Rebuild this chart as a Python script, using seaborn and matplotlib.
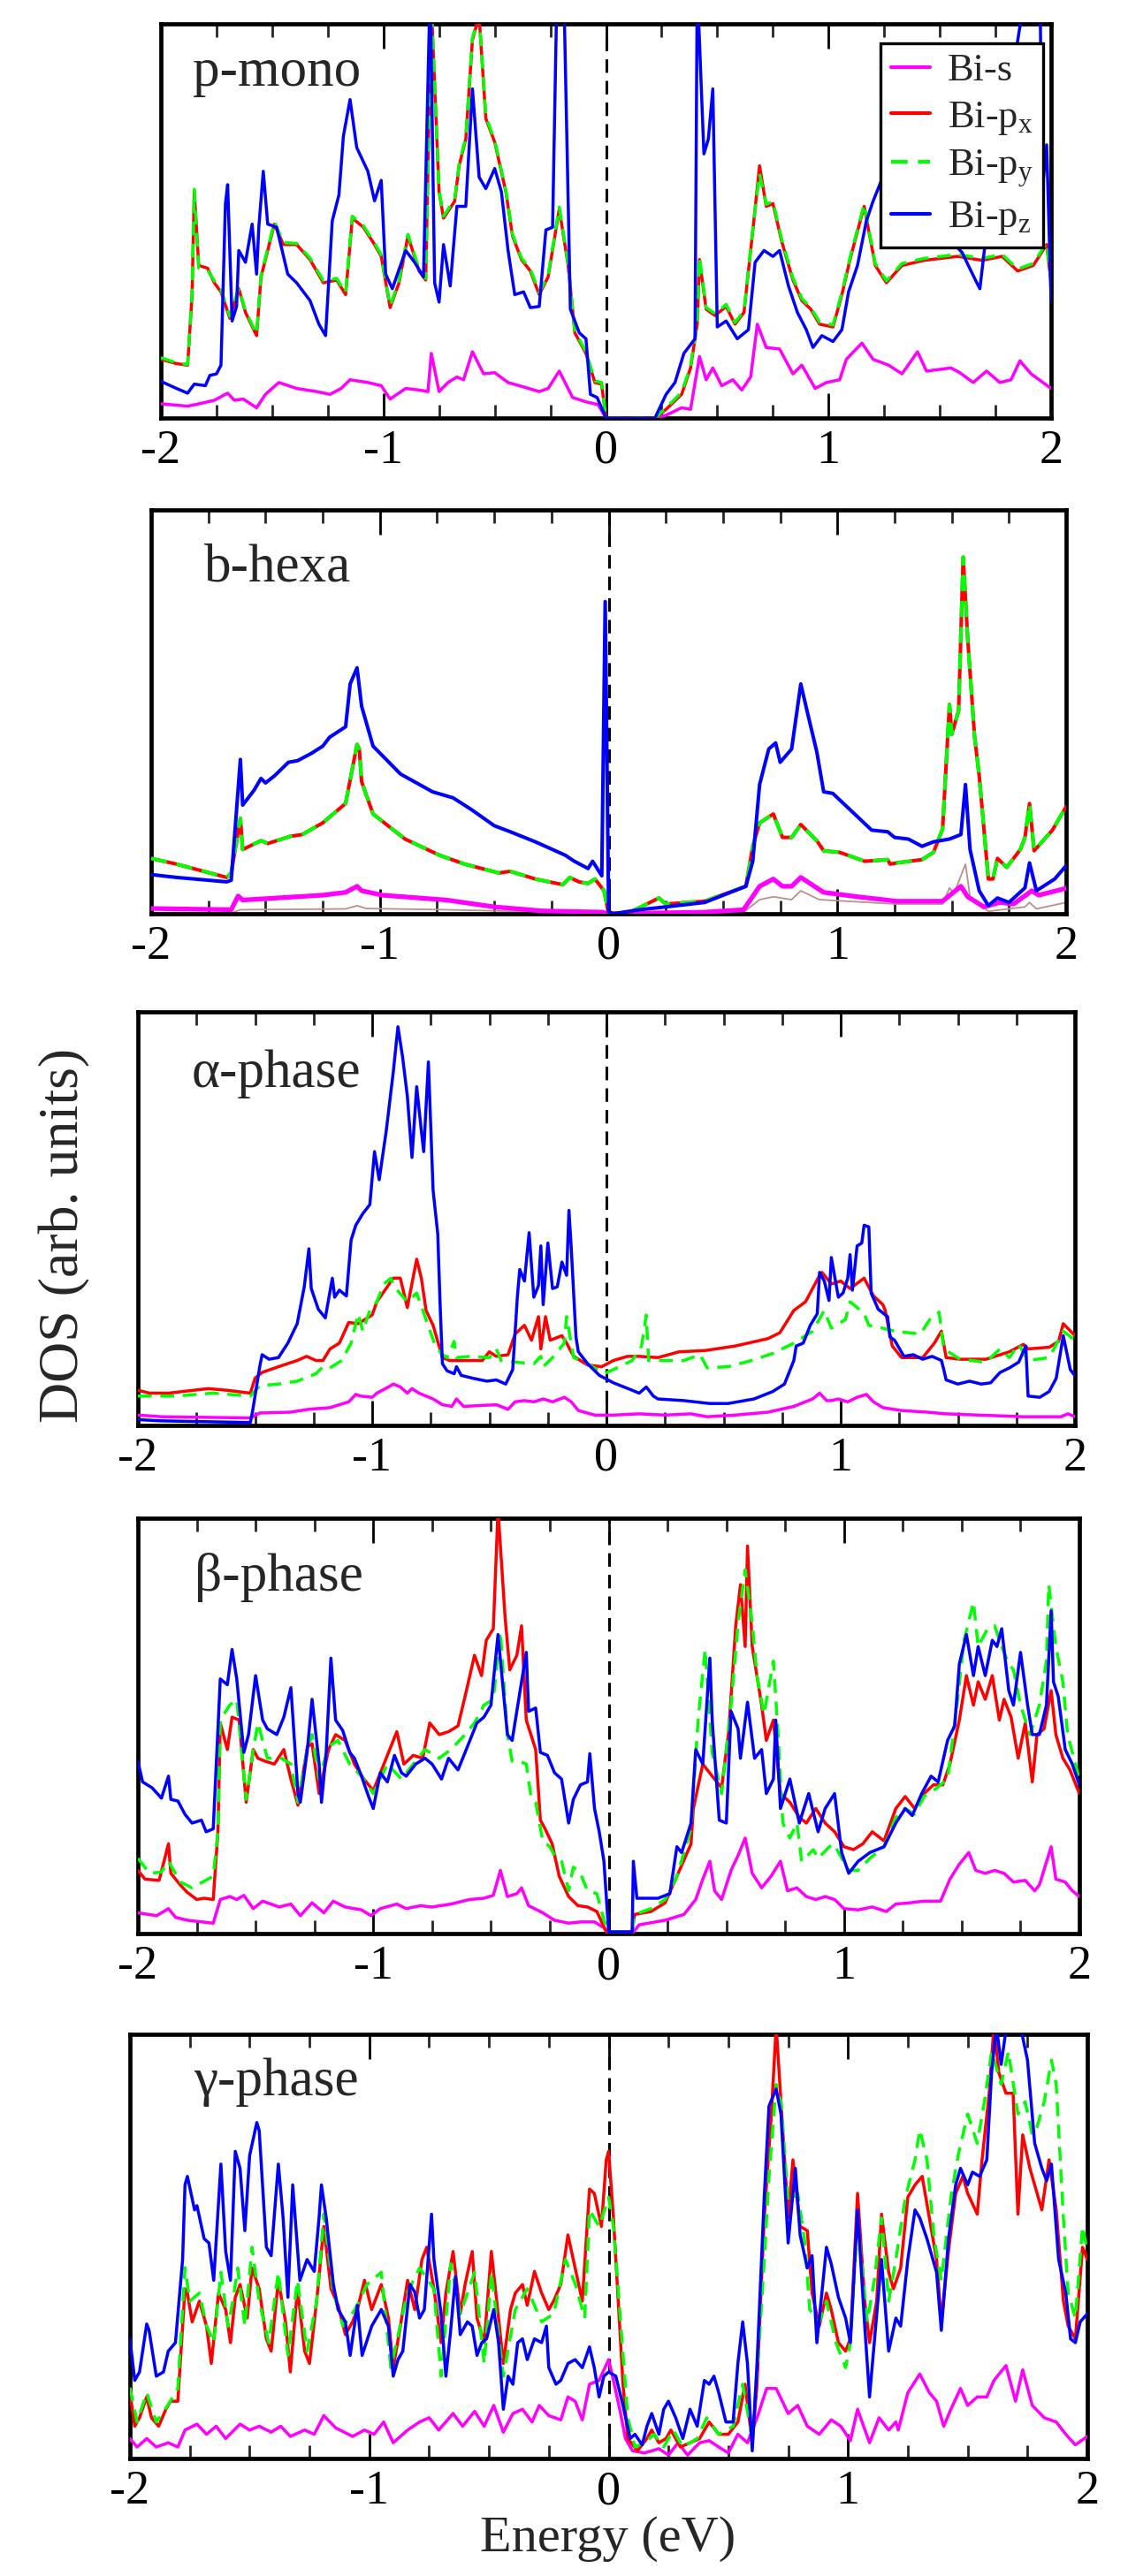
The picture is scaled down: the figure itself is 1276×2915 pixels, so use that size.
import matplotlib
matplotlib.use("Agg")
import matplotlib.pyplot as plt
import seaborn as sns
from matplotlib.ticker import MultipleLocator

# ---------------- data (energy eV, DOS arb. units 0-100 of panel height) ----------------
panel_labels = ["p-mono", "b-hexa", "\u03b1-phase", "\u03b2-phase", "\u03b3-phase"]
legend_labels = ["Bi-s", r"Bi-p$_{\mathrm{x}}$", r"Bi-p$_{\mathrm{y}}$", r"Bi-p$_{\mathrm{z}}$"]
xtick_vals = [-2, -1, 0, 1, 2]
xtick_labels = ["-2", "-1", "0", "1", "2"]

pmono_s = [(-2.0,3.6),(-1.88,3.0),(-1.82,3.7),(-1.76,4.5),(-1.70,6.3),(-1.67,4.5),(-1.63,4.8),(-1.57,2.6),(-1.53,6.0),(-1.47,9.0),(-1.39,7.5),(-1.30,6.7),(-1.24,6.0),(-1.19,7.5),(-1.15,9.7),(-1.07,9.0),(-1.01,8.2),(-0.97,4.8),(-0.90,7.5),(-0.84,7.1),(-0.80,6.7),(-0.785,16.4),(-0.75,6.7),(-0.71,9.0),(-0.67,10.4),(-0.64,9.7),(-0.60,16.8),(-0.55,11.2),(-0.50,11.5),(-0.44,9.0),(-0.39,8.2),(-0.30,6.7),(-0.26,7.5),(-0.21,11.9),(-0.15,5.2),(-0.09,4.1),(-0.036,3.4),(0.0,0.0),(0.22,0.0),(0.27,0.7),(0.34,2.6),(0.38,2.2),(0.42,15.6),(0.45,9.7),(0.48,12.7),(0.52,8.2),(0.57,9.7),(0.61,7.1),(0.65,10.4),(0.68,23.8),(0.72,17.9),(0.78,17.5),(0.84,11.2),(0.88,13.4),(0.94,7.5),(0.99,9.0),(1.05,9.7),(1.08,14.9),(1.15,19.0),(1.20,14.9),(1.27,13.4),(1.33,11.2),(1.40,16.8),(1.44,11.9),(1.55,12.7),(1.59,11.5),(1.65,9.0),(1.71,11.9),(1.77,9.0),(1.82,9.7),(1.86,14.5),(1.91,11.2),(2.0,7.5)]
pmono_px = [(-2.0,14.9),(-1.93,13.8),(-1.88,13.4),(-1.86,31.0),(-1.85,57.4),(-1.83,38.7),(-1.79,38.0),(-1.76,34.3),(-1.73,32.0),(-1.69,25.3),(-1.65,32.8),(-1.62,26.8),(-1.57,20.9),(-1.55,35.8),(-1.49,49.2),(-1.45,44.0),(-1.39,44.0),(-1.33,40.2),(-1.27,34.3),(-1.21,35.0),(-1.17,31.3),(-1.14,50.7),(-1.09,48.4),(-1.04,44.0),(-1.01,41.0),(-0.97,28.0),(-0.93,34.3),(-0.89,46.2),(-0.84,37.3),(-0.81,35.0),(-0.785,105),(-0.75,57.4),(-0.73,50.7),(-0.68,55.0),(-0.66,64.0),(-0.63,70.8),(-0.60,96.0),(-0.57,102),(-0.54,76.0),(-0.50,70.0),(-0.45,57.4),(-0.42,46.2),(-0.38,40.2),(-0.34,37.3),(-0.30,31.3),(-0.26,35.8),(-0.21,53.0),(-0.17,38.7),(-0.14,21.6),(-0.09,16.4),(-0.05,9.0),(-0.02,8.6),(0.0,0.0),(0.22,0.0),(0.27,2.2),(0.34,6.0),(0.38,12.7),(0.41,23.8),(0.42,40.2),(0.45,27.6),(0.49,26.0),(0.54,28.3),(0.58,23.8),(0.62,26.8),(0.66,47.7),(0.69,64.0),(0.72,53.7),(0.75,54.4),(0.79,44.7),(0.84,35.0),(0.88,29.8),(0.92,27.6),(0.96,23.8),(1.02,23.1),(1.06,31.3),(1.10,41.0),(1.16,53.7),(1.21,38.7),(1.26,34.3),(1.33,38.7),(1.43,40.0),(1.58,41.0),(1.69,40.0),(1.78,41.0),(1.85,37.3),(1.92,38.7),(1.98,44.0),(2.0,34.3)]
pmono_py = [(-2.0,15.3),(-1.93,14.0),(-1.88,13.6),(-1.86,31.5),(-1.85,58.0),(-1.83,38.0),(-1.79,37.5),(-1.76,34.8),(-1.73,32.5),(-1.69,25.8),(-1.65,33.0),(-1.62,27.2),(-1.57,21.3),(-1.55,36.2),(-1.49,49.8),(-1.45,44.5),(-1.39,44.3),(-1.33,40.6),(-1.27,34.8),(-1.21,35.4),(-1.17,31.8),(-1.14,51.2),(-1.09,48.8),(-1.04,44.4),(-1.01,41.4),(-0.97,28.4),(-0.93,34.8),(-0.89,46.6),(-0.84,37.8),(-0.81,35.4),(-0.785,105),(-0.75,57.8),(-0.73,51.2),(-0.68,55.5),(-0.66,64.5),(-0.63,71.2),(-0.60,96.5),(-0.57,102),(-0.54,76.5),(-0.50,70.4),(-0.45,57.8),(-0.42,46.6),(-0.38,40.6),(-0.34,37.8),(-0.30,31.8),(-0.26,36.2),(-0.21,53.5),(-0.17,39.2),(-0.14,22.0),(-0.09,16.8),(-0.05,9.4),(-0.02,9.0),(0.0,0.0),(0.22,0.0),(0.27,2.6),(0.34,6.5),(0.38,13.2),(0.41,24.3),(0.42,40.8),(0.45,28.0),(0.49,26.5),(0.54,28.8),(0.58,24.2),(0.62,27.2),(0.66,48.2),(0.69,62.0),(0.72,54.2),(0.75,55.0),(0.79,45.2),(0.84,35.5),(0.88,30.3),(0.92,28.0),(0.96,24.3),(1.02,23.6),(1.06,31.8),(1.10,41.5),(1.16,54.2),(1.21,39.2),(1.26,34.8),(1.33,39.2),(1.43,40.5),(1.58,41.5),(1.69,40.5),(1.78,41.5),(1.85,37.8),(1.92,39.2),(1.98,44.5),(2.0,34.8)]
pmono_pz = [(-2.0,9.3),(-1.93,7.5),(-1.88,6.3),(-1.85,8.6),(-1.80,8.2),(-1.78,10.8),(-1.75,11.2),(-1.73,13.4),(-1.71,54.4),(-1.70,59.2),(-1.68,24.6),(-1.66,28.3),(-1.65,42.5),(-1.62,39.5),(-1.59,49.2),(-1.57,36.5),(-1.56,48.4),(-1.54,62.6),(-1.52,49.2),(-1.48,48.4),(-1.43,36.5),(-1.39,34.3),(-1.33,29.8),(-1.29,23.8),(-1.26,20.9),(-1.23,50.0),(-1.20,56.6),(-1.18,71.5),(-1.15,80.8),(-1.12,68.6),(-1.07,62.6),(-1.04,55.1),(-1.01,60.3),(-0.99,36.5),(-0.96,32.8),(-0.90,42.5),(-0.86,39.5),(-0.82,35.8),(-0.79,110),(-0.77,34.3),(-0.75,29.4),(-0.73,44.0),(-0.70,33.5),(-0.67,53.7),(-0.63,53.7),(-0.60,83.5),(-0.57,61.1),(-0.54,58.2),(-0.50,63.3),(-0.47,57.4),(-0.44,42.5),(-0.41,31.3),(-0.37,32.0),(-0.34,28.0),(-0.30,28.3),(-0.27,47.7),(-0.24,48.4),(-0.22,110),(-0.19,110),(-0.16,27.6),(-0.12,21.6),(-0.09,20.1),(-0.07,6.0),(-0.04,5.2),(0.0,0.0),(0.22,0.0),(0.27,6.0),(0.31,9.0),(0.35,16.4),(0.40,20.1),(0.41,110),(0.44,67.0),(0.46,70.8),(0.48,83.5),(0.50,23.1),(0.54,24.6),(0.59,20.1),(0.64,22.4),(0.67,39.5),(0.71,42.5),(0.75,41.0),(0.78,42.5),(0.82,33.5),(0.86,26.8),(0.90,22.4),(0.93,17.9),(0.97,20.9),(1.02,19.4),(1.06,22.4),(1.09,32.0),(1.13,38.7),(1.17,50.0),(1.20,55.0),(1.25,62.0),(1.30,50.0),(1.40,45.0),(1.50,48.0),(1.60,42.0),(1.66,35.0),(1.68,32.8),(1.70,42.5),(1.89,110),(1.95,110),(1.96,57.4),(1.98,69.3),(2.0,29.8)]

bhexa_tot = [(-2.0,0.2),(-1.65,0.2),(-1.61,1.0),(-1.15,1.2),(-1.10,2.0),(-1.06,1.3),(-0.71,1.0),(-0.03,0.1),(0.0,0.0),(0.59,0.4),(0.66,3.5),(0.72,4.2),(0.80,3.5),(0.84,5.7),(0.92,3.5),(1.26,2.4),(1.46,2.4),(1.49,6.4),(1.51,5.0),(1.56,12.3),(1.58,4.2),(1.66,0.6),(1.82,1.7),(1.84,2.8),(1.87,1.2),(2.0,2.8)]
bhexa_s = [(-2.0,1.3),(-1.65,1.0),(-1.62,4.4),(-1.60,3.4),(-1.51,3.7),(-1.25,4.6),(-1.15,5.3),(-1.10,6.8),(-1.08,5.7),(-0.99,4.6),(-0.71,3.4),(-0.50,1.7),(-0.29,0.7),(-0.03,0.4),(0.0,0.0),(0.42,0.4),(0.59,1.0),(0.66,6.8),(0.72,8.6),(0.76,6.8),(0.80,6.8),(0.84,9.0),(0.94,5.3),(1.09,4.2),(1.26,3.1),(1.46,3.1),(1.54,6.8),(1.57,4.2),(1.64,1.7),(1.71,2.8),(1.77,2.4),(1.85,5.7),(1.88,4.6),(2.0,6.3)]
bhexa_px = [(-2.0,13.7),(-1.89,12.3),(-1.67,9.0),(-1.65,10.1),(-1.61,23.6),(-1.60,15.9),(-1.52,18.1),(-1.49,17.4),(-1.39,19.2),(-1.34,19.6),(-1.25,22.5),(-1.15,27.3),(-1.10,41.9),(-1.09,40.8),(-1.08,32.7),(-1.03,24.7),(-0.89,18.5),(-0.74,14.5),(-0.63,12.3),(-0.48,10.1),(-0.43,10.5),(-0.32,8.6),(-0.20,7.2),(-0.17,9.0),(-0.13,7.9),(-0.09,7.5),(-0.06,8.6),(-0.02,5.7),(0.0,0.0),(0.08,0.0),(0.22,3.9),(0.25,2.4),(0.42,3.1),(0.60,6.8),(0.63,16.7),(0.66,22.5),(0.72,24.7),(0.76,18.9),(0.80,18.9),(0.84,22.1),(0.91,18.1),(0.94,15.6),(1.01,15.2),(1.12,13.0),(1.22,13.4),(1.23,12.3),(1.26,12.6),(1.37,13.4),(1.42,15.2),(1.46,21.0),(1.49,51.8),(1.50,44.4),(1.53,50.3),(1.55,88.3),(1.57,67.8),(1.60,43.7),(1.62,34.2),(1.66,8.6),(1.68,8.6),(1.70,13.7),(1.74,11.5),(1.80,15.9),(1.82,18.9),(1.84,27.3),(1.86,15.6),(1.94,20.7),(2.0,26.5)]
bhexa_py = list(bhexa_px)
bhexa_pz = [(-2.0,9.7),(-1.89,9.0),(-1.67,7.9),(-1.65,8.3),(-1.61,38.2),(-1.60,26.9),(-1.55,30.6),(-1.52,33.5),(-1.50,32.4),(-1.46,34.2),(-1.40,37.5),(-1.36,37.9),(-1.30,39.7),(-1.25,41.5),(-1.22,43.7),(-1.15,46.3),(-1.13,56.9),(-1.10,60.9),(-1.08,51.4),(-1.03,41.5),(-0.91,34.6),(-0.77,30.2),(-0.68,28.7),(-0.60,25.8),(-0.50,21.8),(-0.43,20.3),(-0.32,17.8),(-0.19,14.5),(-0.15,13.0),(-0.09,11.2),(-0.07,13.0),(-0.03,9.4),(-0.015,77.3),(0.0,0.6),(0.02,0.0),(0.135,1.0),(0.25,1.7),(0.42,2.8),(0.60,6.8),(0.63,13.0),(0.66,32.0),(0.70,40.8),(0.73,42.3),(0.75,37.5),(0.80,40.8),(0.84,56.9),(0.87,49.6),(0.91,40.1),(0.94,30.2),(0.98,29.8),(1.15,20.7),(1.22,20.3),(1.25,18.9),(1.31,18.5),(1.37,16.7),(1.42,17.8),(1.49,18.5),(1.54,19.6),(1.56,32.0),(1.58,15.9),(1.62,5.7),(1.66,2.0),(1.70,3.9),(1.75,2.8),(1.82,6.4),(1.84,12.6),(1.87,5.7),(1.95,8.6),(2.0,11.9)]

alpha_s = [(-2.0,2.5),(-1.90,2.1),(-1.52,1.8),(-1.48,3.0),(-1.35,3.2),(-1.27,3.9),(-1.18,4.3),(-1.10,5.7),(-1.07,7.5),(-1.05,7.1),(-1.00,6.8),(-0.98,7.8),(-0.93,9.3),(-0.91,10.0),(-0.88,9.3),(-0.85,7.8),(-0.83,8.9),(-0.80,7.8),(-0.77,7.1),(-0.74,6.4),(-0.70,5.0),(-0.66,4.6),(-0.64,6.4),(-0.61,4.6),(-0.47,5.0),(-0.42,3.9),(-0.39,5.7),(-0.35,6.0),(-0.31,5.7),(-0.27,6.4),(-0.23,5.7),(-0.18,6.8),(-0.15,5.7),(-0.12,3.6),(-0.05,2.5),(0.03,2.5),(0.14,2.8),(0.25,2.5),(0.36,2.8),(0.43,2.1),(0.55,2.5),(0.69,3.2),(0.80,4.6),(0.88,6.4),(0.91,7.8),(0.94,6.0),(0.96,6.0),(0.99,6.4),(1.03,5.7),(1.07,6.8),(1.11,7.5),(1.14,5.7),(1.18,4.3),(1.26,3.6),(1.37,3.2),(1.45,2.8),(1.59,2.5),(1.78,2.1),(1.94,2.1),(1.97,2.8),(2.0,2.1)]
alpha_px = [(-2.0,8.5),(-1.95,7.8),(-1.87,7.8),(-1.70,8.9),(-1.62,8.5),(-1.52,7.8),(-1.50,11.4),(-1.47,12.8),(-1.40,14.2),(-1.32,15.7),(-1.28,16.7),(-1.24,15.7),(-1.21,15.7),(-1.18,18.5),(-1.14,19.9),(-1.10,24.9),(-1.06,24.6),(-1.00,26.7),(-0.98,29.9),(-0.91,35.6),(-0.88,35.6),(-0.85,28.5),(-0.81,40.2),(-0.79,35.6),(-0.77,27.8),(-0.74,24.2),(-0.70,16.4),(-0.67,15.7),(-0.61,15.7),(-0.53,15.7),(-0.50,17.8),(-0.47,16.7),(-0.42,17.1),(-0.39,22.1),(-0.35,24.2),(-0.32,20.6),(-0.29,26.3),(-0.28,18.5),(-0.26,26.3),(-0.24,20.6),(-0.19,21.7),(-0.17,19.9),(-0.14,16.7),(-0.08,14.6),(-0.02,14.2),(0.03,15.7),(0.09,16.7),(0.14,16.7),(0.22,16.4),(0.31,17.8),(0.42,18.1),(0.55,19.2),(0.69,21.0),(0.74,22.4),(0.80,27.8),(0.85,29.9),(0.91,36.3),(0.92,37.0),(0.96,34.2),(1.00,34.9),(1.04,33.1),(1.10,35.6),(1.14,31.3),(1.18,29.2),(1.19,27.8),(1.22,19.2),(1.26,16.4),(1.35,16.4),(1.40,19.9),(1.43,22.8),(1.45,16.4),(1.51,16.0),(1.62,16.0),(1.72,17.8),(1.78,19.6),(1.80,18.5),(1.89,18.9),(1.93,20.3),(1.95,24.6),(2.0,21.7)]
alpha_py = [(-2.0,7.1),(-1.84,7.1),(-1.68,7.8),(-1.52,7.1),(-1.48,9.6),(-1.40,10.0),(-1.32,10.7),(-1.24,12.5),(-1.21,14.2),(-1.18,13.9),(-1.13,15.7),(-1.09,19.9),(-1.06,27.0),(-1.04,22.8),(-1.01,27.8),(-0.98,29.9),(-0.95,34.2),(-0.92,35.6),(-0.91,33.8),(-0.85,29.9),(-0.81,32.0),(-0.77,25.6),(-0.73,19.2),(-0.70,17.1),(-0.68,16.4),(-0.65,20.3),(-0.64,16.4),(-0.58,16.7),(-0.50,16.4),(-0.47,18.5),(-0.45,15.7),(-0.39,15.3),(-0.31,14.9),(-0.28,16.7),(-0.27,14.2),(-0.23,16.4),(-0.18,19.9),(-0.17,26.3),(-0.14,16.4),(-0.08,14.9),(-0.01,12.5),(0.03,13.5),(0.11,15.7),(0.15,19.2),(0.17,26.7),(0.18,15.7),(0.25,15.7),(0.33,15.7),(0.40,17.1),(0.43,13.9),(0.52,14.2),(0.62,15.7),(0.71,17.4),(0.80,19.9),(0.88,22.8),(0.93,27.8),(0.96,23.5),(1.02,25.6),(1.04,29.9),(1.07,28.5),(1.10,27.0),(1.12,24.2),(1.18,23.5),(1.23,22.8),(1.29,22.4),(1.34,22.1),(1.38,25.6),(1.42,27.4),(1.44,18.5),(1.51,16.0),(1.62,15.3),(1.68,18.5),(1.72,16.4),(1.76,19.6),(1.80,15.7),(1.89,16.4),(1.95,22.8),(2.0,20.6)]
alpha_pz = [(-2.0,1.4),(-1.90,1.1),(-1.52,0.7),(-1.51,3.6),(-1.48,14.2),(-1.47,17.1),(-1.44,16.0),(-1.40,16.4),(-1.36,19.9),(-1.32,24.6),(-1.29,33.5),(-1.27,42.7),(-1.26,33.1),(-1.23,28.1),(-1.20,26.0),(-1.17,35.6),(-1.16,31.0),(-1.14,32.7),(-1.11,31.3),(-1.09,44.8),(-1.07,48.4),(-1.04,51.2),(-1.01,53.4),(-0.99,66.2),(-0.97,59.4),(-0.94,71.2),(-0.91,85.4),(-0.89,96.4),(-0.87,89.0),(-0.85,79.7),(-0.83,64.8),(-0.81,81.9),(-0.79,71.2),(-0.78,66.2),(-0.76,87.9),(-0.74,56.9),(-0.72,46.3),(-0.71,29.2),(-0.70,14.9),(-0.68,13.2),(-0.65,12.5),(-0.64,14.2),(-0.62,12.1),(-0.57,11.4),(-0.51,10.7),(-0.47,11.0),(-0.43,10.0),(-0.40,13.5),(-0.38,31.3),(-0.37,37.7),(-0.35,34.9),(-0.33,46.6),(-0.31,31.0),(-0.29,33.8),(-0.28,43.4),(-0.27,29.2),(-0.25,44.1),(-0.23,33.1),(-0.21,33.5),(-0.19,39.5),(-0.17,36.3),(-0.16,52.0),(-0.15,42.7),(-0.13,21.4),(-0.12,17.8),(-0.08,14.9),(-0.03,12.1),(0.03,10.3),(0.11,8.5),(0.14,7.8),(0.17,9.3),(0.20,7.1),(0.22,6.4),(0.33,6.0),(0.44,5.3),(0.52,5.3),(0.63,6.4),(0.71,8.2),(0.76,10.0),(0.80,15.7),(0.81,19.2),(0.84,19.9),(0.87,24.2),(0.90,27.0),(0.91,37.0),(0.93,34.9),(0.95,30.2),(0.96,40.6),(0.99,31.0),(1.01,32.0),(1.03,35.6),(1.04,41.3),(1.05,32.7),(1.07,43.4),(1.09,44.1),(1.10,48.4),(1.12,48.0),(1.13,32.0),(1.16,28.1),(1.20,26.3),(1.21,21.4),(1.23,20.6),(1.27,16.7),(1.31,17.1),(1.35,16.0),(1.39,16.7),(1.43,15.7),(1.44,13.5),(1.45,11.0),(1.50,10.0),(1.55,10.7),(1.60,10.0),(1.64,10.3),(1.68,12.8),(1.72,13.9),(1.76,15.3),(1.79,19.2),(1.80,7.1),(1.85,6.8),(1.89,8.2),(1.92,11.4),(1.95,21.7),(1.98,13.5),(2.0,12.0)]

beta_s = [(-2.0,5.0),(-1.92,4.3),(-1.87,6.0),(-1.84,3.9),(-1.79,3.2),(-1.68,2.5),(-1.65,8.2),(-1.61,8.9),(-1.58,8.2),(-1.55,9.2),(-1.51,6.0),(-1.47,7.8),(-1.40,6.4),(-1.35,7.1),(-1.31,4.3),(-1.26,7.4),(-1.21,5.0),(-1.17,7.8),(-1.12,6.4),(-1.05,5.7),(-1.01,4.3),(-0.97,6.0),(-0.90,7.1),(-0.86,6.0),(-0.80,6.7),(-0.75,6.4),(-0.67,7.1),(-0.59,8.2),(-0.53,8.5),(-0.49,9.2),(-0.46,15.2),(-0.43,8.9),(-0.39,9.6),(-0.37,11.0),(-0.34,6.7),(-0.28,5.0),(-0.23,3.2),(-0.17,2.5),(-0.12,2.8),(-0.06,2.8),(-0.02,1.4),(0.0,0.0),(0.10,0.0),(0.13,2.1),(0.24,3.2),(0.32,4.6),(0.37,8.2),(0.40,13.1),(0.43,17.4),(0.45,10.3),(0.48,8.2),(0.52,15.2),(0.55,18.8),(0.58,23.0),(0.61,14.5),(0.65,11.0),(0.69,13.8),(0.73,17.4),(0.76,10.3),(0.80,11.0),(0.84,8.9),(0.88,8.2),(0.92,8.9),(0.96,8.2),(1.00,6.0),(1.06,5.7),(1.12,6.4),(1.18,5.3),(1.22,7.1),(1.28,7.4),(1.34,7.8),(1.41,7.8),(1.45,13.1),(1.49,16.7),(1.53,19.5),(1.56,15.2),(1.60,14.5),(1.64,15.2),(1.68,14.5),(1.72,12.4),(1.77,12.8),(1.81,10.3),(1.83,11.7),(1.88,20.9),(1.90,13.1),(1.94,12.4),(1.97,10.3),(2.0,8.9)]
beta_px = [(-2.0,15.2),(-1.97,13.1),(-1.91,12.8),(-1.87,21.6),(-1.86,14.5),(-1.82,11.7),(-1.79,9.9),(-1.75,8.2),(-1.72,8.5),(-1.68,8.2),(-1.66,24.5),(-1.65,50.7),(-1.62,44.3),(-1.60,52.1),(-1.57,51.4),(-1.54,31.6),(-1.51,44.3),(-1.49,42.2),(-1.46,41.5),(-1.42,40.8),(-1.38,44.3),(-1.35,37.2),(-1.32,30.9),(-1.28,45.0),(-1.26,45.7),(-1.23,33.7),(-1.19,44.3),(-1.16,47.9),(-1.12,46.5),(-1.08,40.8),(-1.04,37.2),(-1.00,34.4),(-0.95,41.5),(-0.90,48.6),(-0.87,40.8),(-0.83,42.9),(-0.79,42.2),(-0.76,50.7),(-0.72,47.9),(-0.68,48.6),(-0.64,50.0),(-0.61,57.1),(-0.57,67.0),(-0.54,62.1),(-0.52,70.6),(-0.49,73.4),(-0.47,102),(-0.44,76.2),(-0.42,63.5),(-0.39,67.0),(-0.37,74.1),(-0.35,51.4),(-0.31,44.3),(-0.29,27.3),(-0.27,25.2),(-0.24,21.6),(-0.21,13.8),(-0.17,8.9),(-0.13,6.7),(-0.09,6.4),(-0.05,5.3),(-0.01,0.4),(0.10,0.4),(0.11,4.6),(0.18,5.3),(0.24,7.4),(0.29,13.8),(0.35,21.6),(0.36,30.1),(0.40,40.8),(0.44,37.9),(0.48,35.1),(0.51,48.6),(0.54,74.1),(0.56,84.0),(0.58,69.1),(0.59,93.3),(0.61,69.1),(0.65,55.0),(0.67,46.5),(0.70,51.4),(0.73,33.7),(0.77,31.6),(0.81,28.0),(0.84,26.6),(0.88,30.1),(0.92,26.6),(0.96,24.5),(1.00,20.9),(1.04,20.2),(1.08,21.6),(1.12,24.5),(1.17,22.3),(1.22,30.1),(1.26,33.0),(1.30,30.1),(1.34,33.7),(1.38,35.8),(1.42,35.8),(1.45,40.8),(1.49,51.4),(1.52,62.1),(1.55,55.0),(1.57,60.6),(1.60,56.4),(1.63,62.1),(1.66,51.4),(1.68,56.4),(1.71,52.1),(1.74,42.2),(1.77,50.7),(1.80,36.5),(1.82,47.9),(1.85,49.3),(1.88,58.5),(1.90,47.9),(1.93,42.2),(1.96,39.4),(2.0,33.7)]
beta_py = [(-2.0,18.1),(-1.95,14.5),(-1.90,14.8),(-1.87,17.4),(-1.82,12.4),(-1.77,11.0),(-1.68,13.8),(-1.66,24.5),(-1.65,51.4),(-1.61,55.0),(-1.58,56.4),(-1.54,32.3),(-1.51,44.3),(-1.49,50.7),(-1.45,42.2),(-1.39,42.2),(-1.35,40.8),(-1.32,31.6),(-1.28,44.3),(-1.26,47.9),(-1.23,37.2),(-1.19,45.0),(-1.15,46.5),(-1.10,40.8),(-1.05,37.9),(-1.00,33.7),(-0.94,40.8),(-0.88,37.2),(-0.83,40.8),(-0.78,44.3),(-0.72,42.2),(-0.67,44.3),(-0.61,47.9),(-0.57,50.7),(-0.53,55.0),(-0.49,56.4),(-0.46,72.7),(-0.43,47.9),(-0.41,41.5),(-0.38,41.5),(-0.35,40.8),(-0.33,33.0),(-0.31,31.6),(-0.28,22.3),(-0.25,20.9),(-0.23,18.8),(-0.20,17.4),(-0.17,10.3),(-0.15,16.0),(-0.12,14.5),(-0.09,10.3),(-0.05,9.6),(-0.02,3.2),(0.0,0.4),(0.10,0.4),(0.11,4.6),(0.18,6.0),(0.24,8.2),(0.29,13.8),(0.35,25.2),(0.38,51.4),(0.41,68.4),(0.44,43.6),(0.48,33.7),(0.52,55.0),(0.55,74.8),(0.58,87.6),(0.61,74.8),(0.63,62.1),(0.66,52.8),(0.70,65.6),(0.72,47.9),(0.74,26.6),(0.77,23.0),(0.80,26.6),(0.82,17.4),(0.87,20.2),(0.89,18.1),(0.95,21.6),(0.97,20.2),(1.02,15.2),(1.06,15.2),(1.11,18.1),(1.17,20.9),(1.22,28.0),(1.26,30.1),(1.30,28.7),(1.34,33.0),(1.38,34.4),(1.44,37.2),(1.48,55.0),(1.51,70.6),(1.55,79.8),(1.57,69.1),(1.61,73.4),(1.64,74.1),(1.67,69.1),(1.70,64.9),(1.72,63.5),(1.75,55.0),(1.79,47.9),(1.83,55.0),(1.86,65.6),(1.87,84.0),(1.90,69.1),(1.93,60.6),(1.95,47.9),(2.0,37.2)]
beta_pz = [(-2.0,41.5),(-1.98,36.5),(-1.94,35.1),(-1.90,32.6),(-1.87,37.9),(-1.86,32.3),(-1.83,31.9),(-1.80,28.7),(-1.77,26.6),(-1.73,27.3),(-1.71,24.5),(-1.68,25.2),(-1.65,61.3),(-1.62,59.9),(-1.60,68.4),(-1.58,61.3),(-1.55,43.6),(-1.53,47.9),(-1.50,62.1),(-1.47,51.4),(-1.45,49.3),(-1.41,47.9),(-1.38,52.1),(-1.35,59.2),(-1.32,33.7),(-1.31,31.6),(-1.28,44.3),(-1.26,56.4),(-1.23,40.8),(-1.22,31.6),(-1.20,43.6),(-1.18,66.3),(-1.16,51.4),(-1.13,48.9),(-1.10,43.6),(-1.08,42.2),(-1.05,37.9),(-1.02,33.0),(-1.00,30.1),(-0.97,38.7),(-0.94,36.5),(-0.91,42.9),(-0.88,38.7),(-0.86,37.9),(-0.82,40.8),(-0.78,42.2),(-0.75,40.8),(-0.71,37.2),(-0.68,42.2),(-0.64,39.4),(-0.60,45.0),(-0.56,50.7),(-0.53,52.1),(-0.50,55.0),(-0.47,72.0),(-0.45,59.9),(-0.43,47.9),(-0.41,46.5),(-0.38,57.1),(-0.35,67.7),(-0.34,53.5),(-0.31,54.3),(-0.29,43.6),(-0.26,42.9),(-0.23,38.7),(-0.20,37.2),(-0.17,26.6),(-0.15,32.3),(-0.12,35.8),(-0.09,36.5),(-0.08,43.3),(-0.06,30.1),(-0.04,24.5),(-0.02,17.4),(0.0,0.4),(0.10,0.4),(0.105,17.4),(0.12,8.5),(0.21,8.5),(0.26,9.6),(0.29,20.9),(0.31,19.5),(0.35,26.6),(0.37,44.3),(0.40,40.8),(0.43,66.3),(0.44,51.4),(0.47,27.3),(0.50,26.6),(0.52,53.5),(0.55,49.3),(0.56,42.2),(0.59,55.7),(0.62,42.2),(0.65,44.3),(0.67,33.7),(0.70,37.2),(0.71,51.4),(0.73,30.1),(0.77,37.2),(0.81,26.6),(0.85,33.7),(0.89,24.5),(0.92,30.1),(0.96,33.7),(0.99,19.5),(1.02,14.5),(1.06,17.4),(1.11,19.5),(1.17,20.9),(1.22,26.6),(1.26,30.1),(1.29,28.4),(1.33,33.7),(1.37,37.9),(1.40,36.5),(1.44,46.5),(1.47,50.0),(1.49,64.9),(1.52,72.0),(1.55,62.1),(1.57,69.1),(1.60,62.1),(1.63,70.6),(1.65,69.1),(1.67,73.4),(1.70,58.5),(1.72,55.0),(1.75,67.7),(1.78,55.0),(1.80,47.9),(1.83,47.9),(1.86,55.0),(1.88,77.7),(1.89,60.6),(1.91,57.1),(1.94,44.3),(1.97,40.8),(2.0,35.8)]

gamma_s = [(-2.0,4.7),(-1.97,2.7),(-1.93,4.7),(-1.89,2.7),(-1.84,3.7),(-1.80,2.7),(-1.77,6.7),(-1.72,8.1),(-1.68,5.7),(-1.64,7.6),(-1.60,4.7),(-1.54,8.1),(-1.50,6.7),(-1.46,7.6),(-1.41,6.2),(-1.37,7.6),(-1.33,5.2),(-1.27,6.7),(-1.23,5.7),(-1.19,10.1),(-1.14,7.2),(-1.07,5.2),(-1.02,6.7),(-0.98,5.7),(-0.94,8.6),(-0.90,3.7),(-0.84,6.7),(-0.79,8.6),(-0.75,9.6),(-0.71,6.7),(-0.65,10.6),(-0.61,7.6),(-0.56,11.1),(-0.52,7.6),(-0.48,12.5),(-0.44,6.2),(-0.40,10.6),(-0.36,11.6),(-0.32,8.6),(-0.29,12.5),(-0.25,10.1),(-0.20,9.1),(-0.17,14.5),(-0.14,13.5),(-0.11,9.1),(-0.08,17.5),(-0.04,18.4),(0.0,23.3),(0.02,18.4),(0.05,10.6),(0.07,4.7),(0.10,1.8),(0.15,1.3),(0.21,2.3),(0.25,0.8),(0.29,3.7),(0.33,0.8),(0.38,3.7),(0.42,4.2),(0.46,2.7),(0.50,1.3),(0.54,5.7),(0.58,3.7),(0.62,9.6),(0.66,16.5),(0.70,16.5),(0.75,10.6),(0.79,12.5),(0.83,7.6),(0.88,5.7),(0.93,9.1),(0.97,7.6),(1.01,4.2),(1.04,11.6),(1.09,3.7),(1.13,9.6),(1.17,6.7),(1.20,8.6),(1.21,6.7),(1.25,15.5),(1.30,19.9),(1.34,15.5),(1.37,13.5),(1.40,7.6),(1.43,11.6),(1.47,16.5),(1.50,12.5),(1.54,14.5),(1.58,14.5),(1.61,18.4),(1.66,21.9),(1.70,13.5),(1.73,20.9),(1.77,12.5),(1.82,9.6),(1.87,8.6),(1.91,5.7),(1.95,3.2),(2.0,5.2)]
gamma_px = [(-2.0,15.5),(-1.98,7.6),(-1.96,9.6),(-1.93,14.5),(-1.91,9.6),(-1.88,7.6),(-1.85,11.6),(-1.83,13.5),(-1.80,13.5),(-1.77,40.0),(-1.76,39.0),(-1.74,32.2),(-1.71,37.1),(-1.68,31.2),(-1.66,22.4),(-1.63,39.0),(-1.60,35.1),(-1.58,27.3),(-1.56,38.0),(-1.54,41.0),(-1.51,33.1),(-1.49,44.9),(-1.46,40.0),(-1.43,28.2),(-1.41,25.3),(-1.38,42.0),(-1.35,32.2),(-1.33,20.4),(-1.30,40.0),(-1.27,25.3),(-1.25,22.4),(-1.22,37.1),(-1.19,54.7),(-1.16,40.0),(-1.13,36.1),(-1.10,29.2),(-1.07,32.2),(-1.05,35.1),(-1.02,42.0),(-0.99,35.1),(-0.95,41.0),(-0.92,33.1),(-0.90,21.4),(-0.87,31.2),(-0.84,42.0),(-0.81,35.1),(-0.78,46.9),(-0.76,49.8),(-0.73,40.0),(-0.70,27.3),(-0.68,39.0),(-0.65,48.8),(-0.62,34.1),(-0.60,41.0),(-0.57,48.8),(-0.55,33.1),(-0.52,27.3),(-0.49,48.8),(-0.46,33.1),(-0.44,22.4),(-0.41,35.1),(-0.39,39.0),(-0.36,41.0),(-0.34,36.1),(-0.31,44.1),(-0.28,39.0),(-0.25,35.1),(-0.23,37.1),(-0.20,41.0),(-0.17,52.7),(-0.14,44.9),(-0.11,37.1),(-0.08,63.5),(-0.06,62.5),(-0.03,54.7),(-0.01,70.4),(0.0,72.4),(0.02,56.7),(0.04,37.1),(0.06,17.5),(0.08,4.7),(0.12,1.8),(0.16,4.7),(0.18,6.7),(0.21,3.7),(0.24,4.7),(0.26,6.7),(0.30,2.7),(0.34,3.7),(0.38,4.7),(0.42,8.6),(0.46,5.7),(0.50,5.7),(0.54,8.6),(0.57,17.5),(0.60,3.7),(0.62,17.5),(0.65,56.7),(0.68,81.2),(0.70,102),(0.72,84.1),(0.75,56.7),(0.77,70.4),(0.80,54.7),(0.83,53.7),(0.85,39.0),(0.88,31.2),(0.91,39.0),(0.93,35.1),(0.96,27.3),(0.99,25.3),(1.01,28.2),(1.04,62.5),(1.07,37.1),(1.09,27.3),(1.12,37.1),(1.14,57.6),(1.17,43.9),(1.19,40.0),(1.22,44.9),(1.25,61.6),(1.28,64.5),(1.31,66.5),(1.34,56.7),(1.37,46.9),(1.39,32.2),(1.42,49.0),(1.45,62.5),(1.48,66.5),(1.50,62.5),(1.54,57.6),(1.56,70.4),(1.59,86.1),(1.61,102),(1.63,91.0),(1.66,86.1),(1.69,86.1),(1.71,57.6),(1.73,76.3),(1.76,68.4),(1.78,64.5),(1.81,58.6),(1.84,70.4),(1.87,58.6),(1.90,37.1),(1.92,31.2),(1.95,28.2),(1.98,49.8),(2.0,46.9)]
gamma_py = [(-2.0,16.7),(-1.97,8.6),(-1.93,15.5),(-1.89,8.6),(-1.84,12.7),(-1.80,16.5),(-1.77,45.0),(-1.75,37.1),(-1.71,39.0),(-1.68,31.2),(-1.65,27.3),(-1.62,43.9),(-1.59,31.2),(-1.57,37.1),(-1.55,44.9),(-1.52,31.2),(-1.49,49.8),(-1.46,37.1),(-1.42,27.3),(-1.38,43.9),(-1.34,24.3),(-1.30,42.0),(-1.26,25.3),(-1.22,37.1),(-1.19,57.6),(-1.15,39.2),(-1.11,31.2),(-1.06,35.1),(-1.01,41.0),(-0.95,43.9),(-0.91,21.4),(-0.84,39.2),(-0.79,44.9),(-0.73,40.0),(-0.70,19.4),(-0.66,45.9),(-0.62,34.1),(-0.56,43.9),(-0.52,22.4),(-0.49,43.9),(-0.44,19.4),(-0.39,35.1),(-0.34,40.0),(-0.28,32.2),(-0.23,34.1),(-0.18,46.9),(-0.14,41.2),(-0.10,33.1),(-0.08,58.6),(-0.04,54.7),(0.0,61.6),(0.02,54.7),(0.05,32.2),(0.08,9.6),(0.11,2.7),(0.15,3.7),(0.19,5.7),(0.23,2.7),(0.27,6.7),(0.31,2.7),(0.37,4.7),(0.41,9.6),(0.46,5.7),(0.52,7.6),(0.56,17.5),(0.60,4.7),(0.64,37.1),(0.67,66.5),(0.70,88.2),(0.72,84.1),(0.75,60.6),(0.79,62.5),(0.82,50.8),(0.84,35.1),(0.88,32.2),(0.91,37.1),(0.95,27.3),(0.99,21.4),(1.01,27.3),(1.04,56.7),(1.08,32.2),(1.11,42.0),(1.14,56.7),(1.17,37.1),(1.20,46.9),(1.24,61.6),(1.28,70.4),(1.30,77.5),(1.33,70.4),(1.36,51.8),(1.39,42.0),(1.43,61.6),(1.46,71.4),(1.50,81.2),(1.54,74.3),(1.57,84.1),(1.60,95.9),(1.64,88.2),(1.67,95.9),(1.71,81.2),(1.74,84.1),(1.77,76.3),(1.79,78.2),(1.82,84.1),(1.85,93.9),(1.87,88.2),(1.90,56.7),(1.92,39.0),(1.95,33.1),(1.98,54.7),(2.0,48.8)]
gamma_pz = [(-2.0,28.2),(-1.98,18.4),(-1.96,20.4),(-1.93,31.7),(-1.92,30.2),(-1.89,19.4),(-1.86,20.4),(-1.84,25.3),(-1.81,27.3),(-1.78,46.9),(-1.77,64.5),(-1.76,66.5),(-1.73,58.6),(-1.72,59.6),(-1.69,51.8),(-1.67,50.8),(-1.65,42.0),(-1.62,69.4),(-1.60,48.8),(-1.58,42.0),(-1.56,72.4),(-1.54,68.4),(-1.52,53.7),(-1.50,71.4),(-1.47,79.2),(-1.46,77.3),(-1.43,49.8),(-1.41,47.8),(-1.38,69.4),(-1.36,56.7),(-1.34,38.0),(-1.32,64.5),(-1.29,42.0),(-1.26,46.9),(-1.23,44.1),(-1.21,56.7),(-1.20,64.5),(-1.18,56.7),(-1.15,41.0),(-1.13,35.1),(-1.10,32.2),(-1.08,24.3),(-1.05,36.1),(-1.03,24.3),(-0.99,31.2),(-0.95,35.1),(-0.92,31.2),(-0.90,19.4),(-0.88,23.3),(-0.86,25.3),(-0.83,41.0),(-0.81,39.2),(-0.79,33.1),(-0.77,35.1),(-0.74,57.6),(-0.73,46.9),(-0.70,34.1),(-0.68,19.4),(-0.66,30.2),(-0.64,42.9),(-0.62,29.2),(-0.59,32.2),(-0.57,31.2),(-0.55,24.3),(-0.53,27.3),(-0.51,28.2),(-0.48,35.1),(-0.46,27.3),(-0.44,11.6),(-0.42,19.4),(-0.40,17.5),(-0.38,27.3),(-0.36,28.2),(-0.34,23.3),(-0.31,28.2),(-0.28,27.3),(-0.26,31.2),(-0.25,21.4),(-0.22,17.5),(-0.20,18.4),(-0.17,22.4),(-0.14,23.3),(-0.11,21.4),(-0.08,26.3),(-0.06,21.4),(-0.04,14.5),(-0.02,19.4),(0.0,20.4),(0.03,19.4),(0.06,12.5),(0.09,4.7),(0.11,5.7),(0.14,3.2),(0.16,7.6),(0.18,10.6),(0.21,5.7),(0.23,11.6),(0.25,13.5),(0.28,9.6),(0.31,4.7),(0.34,11.6),(0.37,7.6),(0.40,18.4),(0.42,17.5),(0.44,19.4),(0.46,15.5),(0.49,8.6),(0.52,8.6),(0.54,22.4),(0.56,32.2),(0.58,22.4),(0.60,1.8),(0.62,22.4),(0.65,61.6),(0.67,83.1),(0.70,87.1),(0.72,81.2),(0.75,50.8),(0.78,68.4),(0.80,52.7),(0.83,44.9),(0.85,47.8),(0.87,27.3),(0.91,49.8),(0.93,45.9),(0.96,38.0),(0.99,33.1),(1.01,27.3),(1.04,58.6),(1.07,31.2),(1.09,14.5),(1.12,34.1),(1.14,46.9),(1.17,25.3),(1.20,33.1),(1.22,31.2),(1.25,46.9),(1.28,58.6),(1.30,56.7),(1.33,51.8),(1.37,43.9),(1.39,30.2),(1.42,51.8),(1.45,64.5),(1.47,68.4),(1.50,64.5),(1.52,67.5),(1.55,66.5),(1.58,70.4),(1.60,91.0),(1.62,102),(1.64,92.9),(1.67,105),(1.70,105),(1.72,102),(1.75,93.9),(1.78,74.3),(1.81,68.4),(1.83,65.5),(1.85,69.4),(1.88,46.9),(1.91,39.0),(1.93,28.2),(1.95,27.3),(1.97,32.2),(2.0,34.1)]

# ---------------- style ----------------
sns.set_style("white")
plt.rcParams['font.family'] = ['Liberation Serif', 'DejaVu Serif']
plt.rcParams['mathtext.fontset'] = 'custom'
plt.rcParams['mathtext.rm'] = 'Liberation Serif'
plt.rcParams['mathtext.it'] = 'Liberation Serif:italic'

C_S, C_X, C_Y, C_Z, C_T = '#ff00ff', '#ff0000', '#00ff00', '#0000ff', '#bc8f8f'

W, H = 1276, 2915
fig = plt.figure(figsize=(W / 100, H / 100), dpi=100)

# axes boxes in pixels (left, top, right, bottom)
boxes = [(182, 27, 1189, 473), (171, 577, 1206, 1034), (156, 1145, 1216, 1613),
         (156, 1718, 1221, 2188), (147, 2302, 1230, 2782)]
label_pos = [(0.036, 0.843), (0.058, 0.823), (0.057, 0.818), (0.060, 0.826), (0.067, 0.856)]

panels = [
    dict(tot=None, s=pmono_s, px=pmono_px, py=pmono_py, pz=pmono_pz),
    dict(tot=bhexa_tot, s=bhexa_s, px=bhexa_px, py=bhexa_py, pz=bhexa_pz),
    dict(tot=None, s=alpha_s, px=alpha_px, py=alpha_py, pz=alpha_pz),
    dict(tot=None, s=beta_s, px=beta_px, py=beta_py, pz=beta_pz),
    dict(tot=None, s=gamma_s, px=gamma_px, py=gamma_py, pz=gamma_pz),
]


def draw(ax, pts, color, lw, label=None, dashed=False, z=2):
    xs = [p[0] for p in pts]
    ys = [p[1] for p in pts]
    sns.lineplot(x=xs, y=ys, ax=ax, color=color, linewidth=lw, estimator=None,
                 sort=False, label=label, legend=False, zorder=z)
    ln = ax.lines[-1]
    ln.set_solid_joinstyle('round')
    if dashed:
        ln.set_linestyle((0, (4.5, 2.8)))
        ln.set_dash_capstyle('butt')


for i, (box, pan) in enumerate(zip(boxes, panels)):
    l, t, r, b = box
    ax = fig.add_axes([l / W, 1 - b / H, (r - l) / W, (b - t) / H])
    ax.axvline(0, color='black', lw=2.2, ls=(0, (5, 3)), zorder=1)
    bh = (i == 1)
    lw = 2.5 if not bh else 2.9
    if pan['tot'] is not None:
        draw(ax, pan['tot'], C_T, 1.3, z=2)
    lab = legend_labels if i == 0 else [None] * 4
    draw(ax, pan['s'], C_S, 3.8 if bh else lw, lab[0], z=3)
    draw(ax, pan['px'], C_X, lw, lab[1], z=4)
    draw(ax, pan['py'], C_Y, lw, lab[2], dashed=True, z=5)
    draw(ax, pan['pz'], C_Z, lw, lab[3], z=6)

    ax.set_xlim(-2, 2)
    ax.set_ylim(0, 100)
    ax.set_yticks([])
    ax.set_xticks(xtick_vals)
    ax.set_xticklabels(xtick_labels)
    ax.xaxis.set_minor_locator(MultipleLocator(0.25))
    ax.tick_params(axis='x', which='major', direction='in', length=20, width=2.0,
                   top=True, bottom=True, labelsize=39, pad=9, colors='black')
    ax.tick_params(axis='x', which='minor', direction='in', length=11, width=2.0,
                   top=True, bottom=True)
    ax.set_xlabel('')
    ax.set_ylabel('')
    for sp in ax.spines.values():
        sp.set_linewidth(3.4)
        sp.set_color('black')
        sp.set_visible(True)
    ax.text(label_pos[i][0], label_pos[i][1], panel_labels[i], transform=ax.transAxes,
            fontsize=44, ha='left', va='baseline', zorder=10)

    if i == 0:
        leg = ax.legend(loc='upper right', bbox_to_anchor=((1180 - l) / (r - l), 1 - (49 - t) / (b - t)),
                        borderaxespad=0, fontsize=32, frameon=True, fancybox=False,
                        framealpha=1, edgecolor='black', handlelength=1.0,
                        handletextpad=0.45, labelspacing=0.28, borderpad=0.25)
        leg.get_frame().set_linewidth(2.4)
        leg.set_zorder(20)
        for h in leg.legend_handles:
            h.set_linewidth(3.0)

fig.text(73 / W, 1 - 1398 / H, 'DOS (arb. units)', rotation=90, ha='center', va='center', fontsize=46)
fig.text(688 / W, 1 - 2887 / H, 'Energy (eV)', ha='center', va='baseline', fontsize=42)

fig.savefig('out.png', dpi=100)
